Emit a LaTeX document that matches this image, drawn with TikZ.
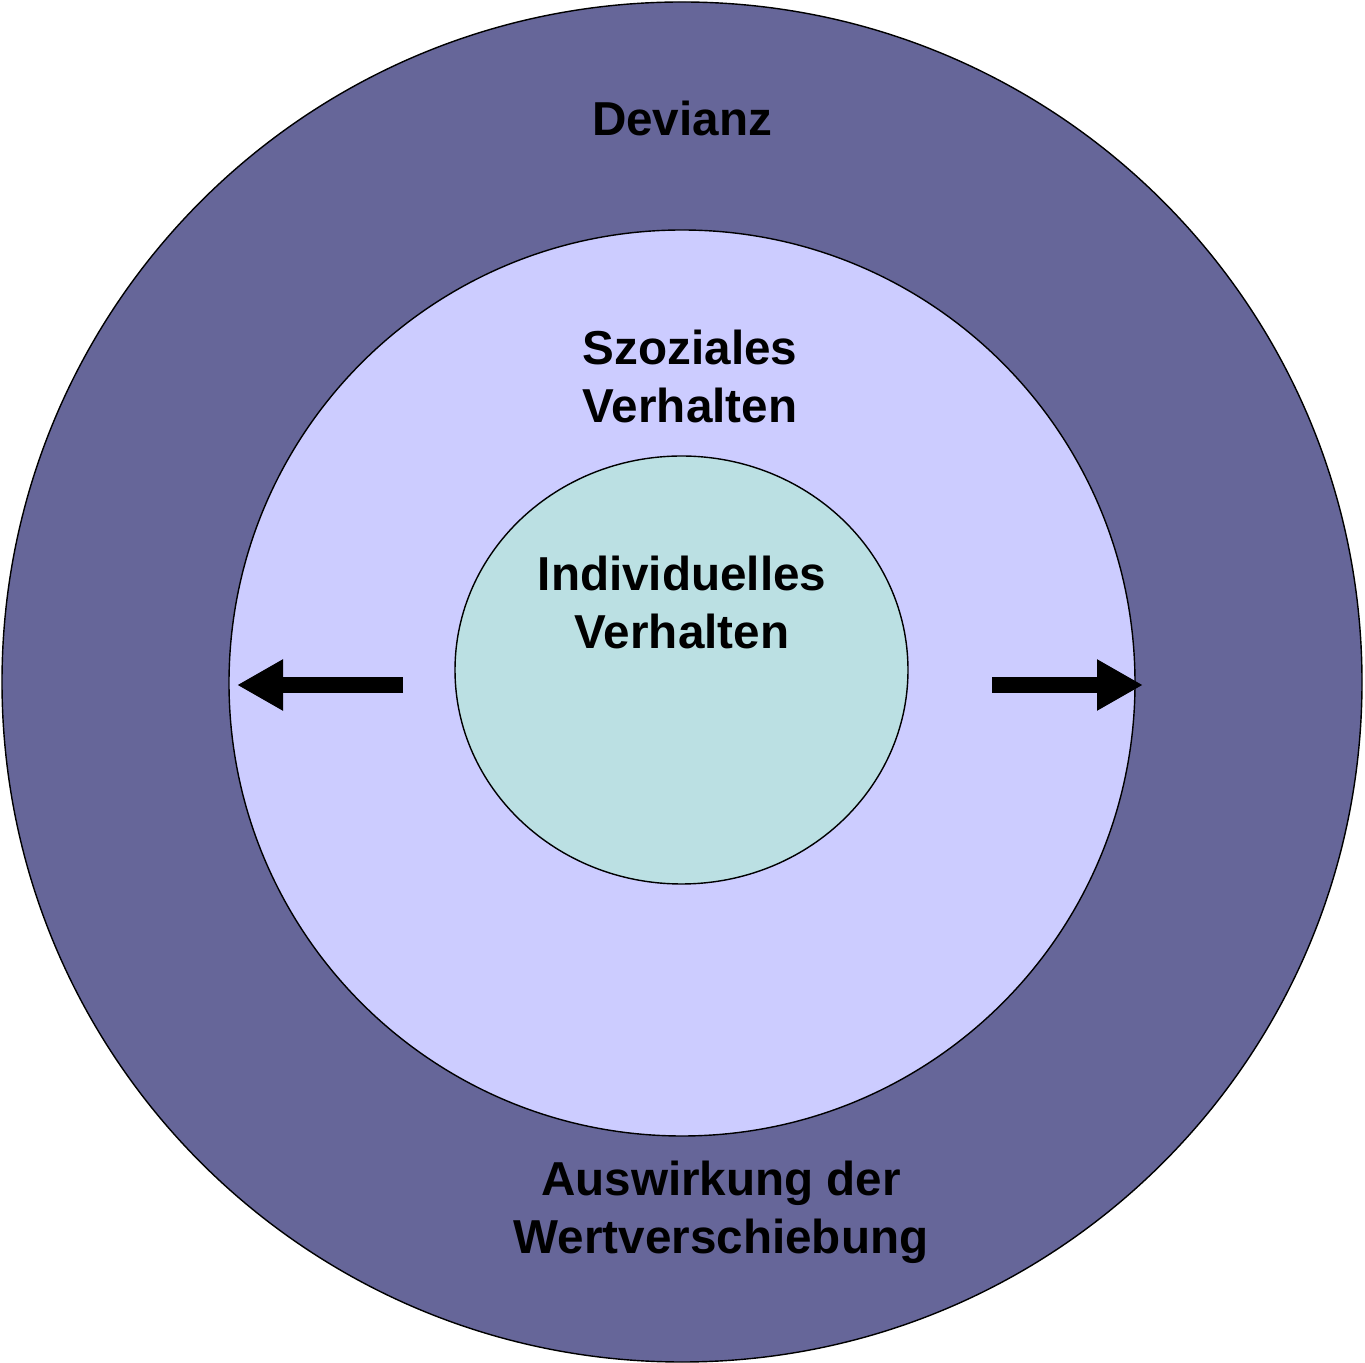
\documentclass[tikz,border=0pt]{standalone}
\usepackage{fontspec}
\setmainfont{Liberation Sans}
\usepackage{xcolor}
\usepackage{tikz}
\usetikzlibrary{
    arrows.meta,
    shapes.geometric
}
\definecolor{devianzblue}{HTML}{666699}
\definecolor{sozialblue}{HTML}{CCCCFF}
\definecolor{indivgreen}{HTML}{BBE0E3}
\tikzset{
    ring/.style={draw=black, line width=0.8pt, inner sep=0pt},
    label text/.style={font=\fontsize{27.1}{33}\selectfont\bfseries, align=center, text=black},
    shift arrow/.style={line width=9.1pt, -{Triangle[length=0.92cm, width=0.96cm]}}
}

\begin{document}
\begin{tikzpicture}
        \useasboundingbox (0,0) rectangle (27.3,27.24);

        \draw (13.64,13.6) node[ring, circle, fill=devianzblue, minimum size=27.2cm](devianz){};
        \draw (13.64,13.58) node[ring, circle, fill=sozialblue, minimum size=18.12cm](sozial){};
        \draw (13.63,13.84) node[ring, ellipse, fill=indivgreen, minimum width=9.06cm, minimum height=8.56cm](indiv){};

        \draw (13.64,24.88) node[label text](tdevianz){Devianz};
        \draw (13.8,19.72) node[label text](tsozial){Szoziales\\Verhalten};
        \draw (13.64,15.2) node[label text](tindiv){Individuelles\\Verhalten};
        \draw (14.42,3.0) node[label text](tauswirkung){Auswirkung der\\Wertverschiebung};

        \coordinate (ltail) at (8.06,13.54);
        \coordinate (ltip) at (4.74,13.54);
        \coordinate (rtail) at (19.84,13.54);
        \coordinate (rtip) at (22.86,13.54);
        \draw[shift arrow] (ltail) to (ltip);
        \draw[shift arrow] (rtail) to (rtip);
\end{tikzpicture}
\end{document}
